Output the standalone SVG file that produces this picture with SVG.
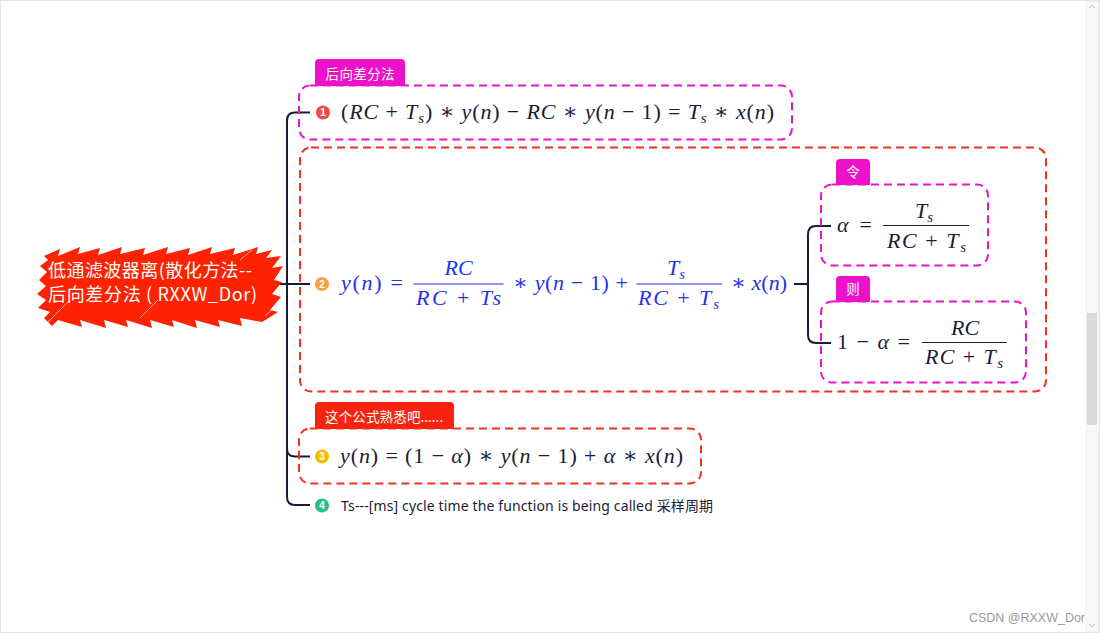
<svg xmlns="http://www.w3.org/2000/svg" width="1100" height="633" viewBox="0 0 1100 633">
<style>
.m{font-family:"Liberation Serif","DejaVu Serif",serif;font-size:22px;fill:#1c1c38}
.b{fill:#2233ee}
.i{font-style:italic}
.sub{font-size:15px;font-style:italic}
.bar{stroke:#1c1c38;stroke-width:1.2}
.barb{stroke:#2233ee;stroke-width:1.2}
.tabt{font-family:"Noto Sans","Noto Sans CJK SC",sans-serif;font-size:13.5px;fill:#fff}
.mag{fill:none;stroke:#ee11cc;stroke-width:2;stroke-dasharray:8 5}
.red{fill:none;stroke:#f5301c;stroke-width:2;stroke-dasharray:8 5}
.conn{fill:none;stroke:#1a1a3a;stroke-width:2}
.bn{font-family:"Liberation Sans",sans-serif;font-size:10px;font-weight:bold;fill:#fff;text-anchor:middle}
</style>
<rect x="0" y="0" width="1100" height="633" fill="#ffffff"/>
<rect x="0.5" y="0.5" width="1099" height="632" fill="none" stroke="#e4e4e4"/>
<g id="scrollbar">
<rect x="1086" y="1" width="12" height="631" fill="#f8f8f8" stroke="#ececec" stroke-width="0.8"/>
<rect x="1087" y="313" width="10" height="112" fill="#dadada"/>
<path d="M1089 8 L1092 5 L1095 8" fill="none" stroke="#bbb" stroke-width="0.8"/>
<path d="M1089 624 L1092 627 L1095 624" fill="none" stroke="#bbb" stroke-width="0.8"/>
</g>

<g id="connectors">
<path class="conn" d="M310 112.5 L295 112.5 Q287 112.5 287 120.5 L287 497 Q287 505 295 505 L310 505"/>
<path class="conn" d="M287 448.5 Q287 456.5 295 456.5 L310 456.5"/>
<path class="conn" d="M280 284 L310 284"/>
<path class="conn" d="M794 284 L808 284"/>
<path class="conn" d="M831 226 L816 226 Q808 226 808 234 L808 335 Q808 343 816 343 L831 343"/>
</g>

<g id="root">
<path fill="#ff2200" d="M44 256 L60 249 L58 256 L80 247 L78 254 L100 248 L98 255 L122 247 L120 254 L145 248 L143 255 L168 247 L166 254 L190 248 L188 255 L212 247 L210 254 L235 248 L233 255 L258 247 L256 254 L272 250 L266 258 L281 256 L272 268 L283 266 L274 280 L282 282 L272 294 L281 297 L270 310 L278 312 L262 322 L240 318 L242 326 L218 320 L220 327 L195 320 L197 328 L172 320 L174 327 L150 320 L152 328 L126 320 L128 327 L104 320 L106 328 L80 320 L82 327 L58 320 L52 326 L44 318 L50 312 L38 308 L46 300 L37 294 L46 286 L39 280 L47 272 L40 266 L48 260 Z"/>
<g stroke="#ffffff" stroke-width="0.8" opacity="0.8">
<line x1="44" y1="326" x2="70" y2="300"/>
<line x1="140" y1="318" x2="158" y2="300"/>
<line x1="240" y1="260" x2="252" y2="250"/>
<line x1="265" y1="316" x2="278" y2="304"/>
</g>
<text x="48" y="277" font-family="Noto Sans CJK SC, sans-serif" font-size="18" fill="#fff" textLength="204">低通滤波器离(散化方法--</text>
<text x="48" y="301" font-family="Noto Sans CJK SC, sans-serif" font-size="18" fill="#fff" textLength="209">后向差分法 ( RXXW_Dor)</text>
</g>

<g id="node1">
<path fill="#ee11cc" d="M315 86 L315 63 Q315 59 319 59 L401 59 Q405 59 405 63 L405 86 Z"/>
<text class="tabt" x="325.5" y="79" textLength="69">后向差分法</text>
<rect class="mag" x="299" y="85.5" width="493" height="54" rx="11"/>
<circle cx="323" cy="112.5" r="7" fill="#f04a44"/>
<text class="bn" x="323" y="116">1</text>
<text class="m" x="341" y="119" textLength="433">(<tspan class="i">RC</tspan> + <tspan class="i">T</tspan><tspan class="sub" dy="4">s</tspan><tspan dy="-4">) ∗ </tspan><tspan class="i">y</tspan>(<tspan class="i">n</tspan>) − <tspan class="i">RC</tspan> ∗ <tspan class="i">y</tspan>(<tspan class="i">n</tspan> − 1) = <tspan class="i">T</tspan><tspan class="sub" dy="4">s</tspan><tspan dy="-4"> ∗ </tspan><tspan class="i">x</tspan>(<tspan class="i">n</tspan>)</text>
</g>

<g id="node2">
<rect class="red" x="300" y="147.5" width="746" height="244" rx="11"/>
<circle cx="322" cy="284" r="7" fill="#f8a040"/>
<text class="bn" x="322" y="287.5">2</text>
<text class="m b" x="341" y="290" textLength="62"><tspan class="i">y</tspan>(<tspan class="i">n</tspan>) =</text>
<text class="m b i" x="458.5" y="275" text-anchor="middle">RC</text>
<line class="barb" x1="413.5" y1="284" x2="503.5" y2="284"/>
<text class="m b" x="416" y="305" textLength="85"><tspan class="i">RC</tspan> + <tspan class="i">Ts</tspan></text>
<text class="m b" x="513" y="290" textLength="115">∗ <tspan class="i">y</tspan>(<tspan class="i">n</tspan> − 1) +</text>
<text class="m b" x="667" y="275"><tspan class="i">T</tspan><tspan class="sub" dy="4">s</tspan></text>
<line class="barb" x1="636.5" y1="284" x2="722" y2="284"/>
<text class="m b" x="638" y="305" textLength="81"><tspan class="i">RC</tspan> + <tspan class="i">T</tspan><tspan class="sub" dy="4">s</tspan></text>
<text class="m b" x="731" y="290" textLength="56">∗ <tspan class="i">x</tspan>(<tspan class="i">n</tspan>)</text>
</g>

<g id="node2a">
<path fill="#ee11cc" d="M836 185 L836 163 Q836 159 840 159 L866 159 Q870 159 870 163 L870 185 Z"/>
<text class="tabt" x="853" y="177" text-anchor="middle">令</text>
<rect class="mag" x="821" y="184.5" width="167" height="81" rx="11"/>
<text class="m" x="837" y="232" textLength="35"><tspan class="i">α</tspan> =</text>
<text class="m" x="915" y="218"><tspan class="i">T</tspan><tspan class="sub" dy="4">s</tspan></text>
<line class="bar" x1="883" y1="225.5" x2="969" y2="225.5"/>
<text class="m" x="887" y="248" textLength="79"><tspan class="i">RC</tspan> + <tspan class="i">T</tspan><tspan class="sub" dy="4">s</tspan></text>
</g>

<g id="node2b">
<path fill="#ee11cc" d="M836 302 L836 280 Q836 276 840 276 L866 276 Q870 276 870 280 L870 302 Z"/>
<text class="tabt" x="853" y="294" text-anchor="middle">则</text>
<rect class="mag" x="821" y="301.5" width="205" height="81" rx="11"/>
<text class="m" x="837" y="349" textLength="73">1 − <tspan class="i">α</tspan> =</text>
<text class="m i" x="965" y="335" text-anchor="middle">RC</text>
<line class="bar" x1="922" y1="342.5" x2="1007" y2="342.5"/>
<text class="m" x="925" y="364" textLength="78"><tspan class="i">RC</tspan> + <tspan class="i">T</tspan><tspan class="sub" dy="4">s</tspan></text>
</g>

<g id="node3">
<path fill="#f7230e" d="M315 429 L315 406 Q315 402 319 402 L450 402 Q454 402 454 406 L454 429 Z"/>
<text class="tabt" x="325" y="422" textLength="118">这个公式熟悉吧......</text>
<rect class="red" x="299" y="428.5" width="402" height="55" rx="11"/>
<circle cx="322" cy="456.5" r="7" fill="#f0c000"/>
<text class="bn" x="322" y="460">3</text>
<text class="m" x="340" y="463" textLength="343"><tspan class="i">y</tspan>(<tspan class="i">n</tspan>) = (1 − <tspan class="i">α</tspan>) ∗ <tspan class="i">y</tspan>(<tspan class="i">n</tspan> − 1) + <tspan class="i">α</tspan> ∗ <tspan class="i">x</tspan>(<tspan class="i">n</tspan>)</text>
</g>

<g id="node4">
<circle cx="322" cy="505.5" r="7" fill="#2dbf7f"/>
<text class="bn" x="322" y="509">4</text>
<text x="341" y="510.5" font-family="Noto Sans, Noto Sans CJK SC, sans-serif" font-size="14" fill="#1c1c38" textLength="372">Ts---[ms] cycle time the function is being called 采样周期</text>
</g>

<text x="969" y="622" font-family="Liberation Sans, sans-serif" font-size="12.5" fill="#9a9a9a" textLength="116">CSDN @RXXW_Dor</text>
</svg>
